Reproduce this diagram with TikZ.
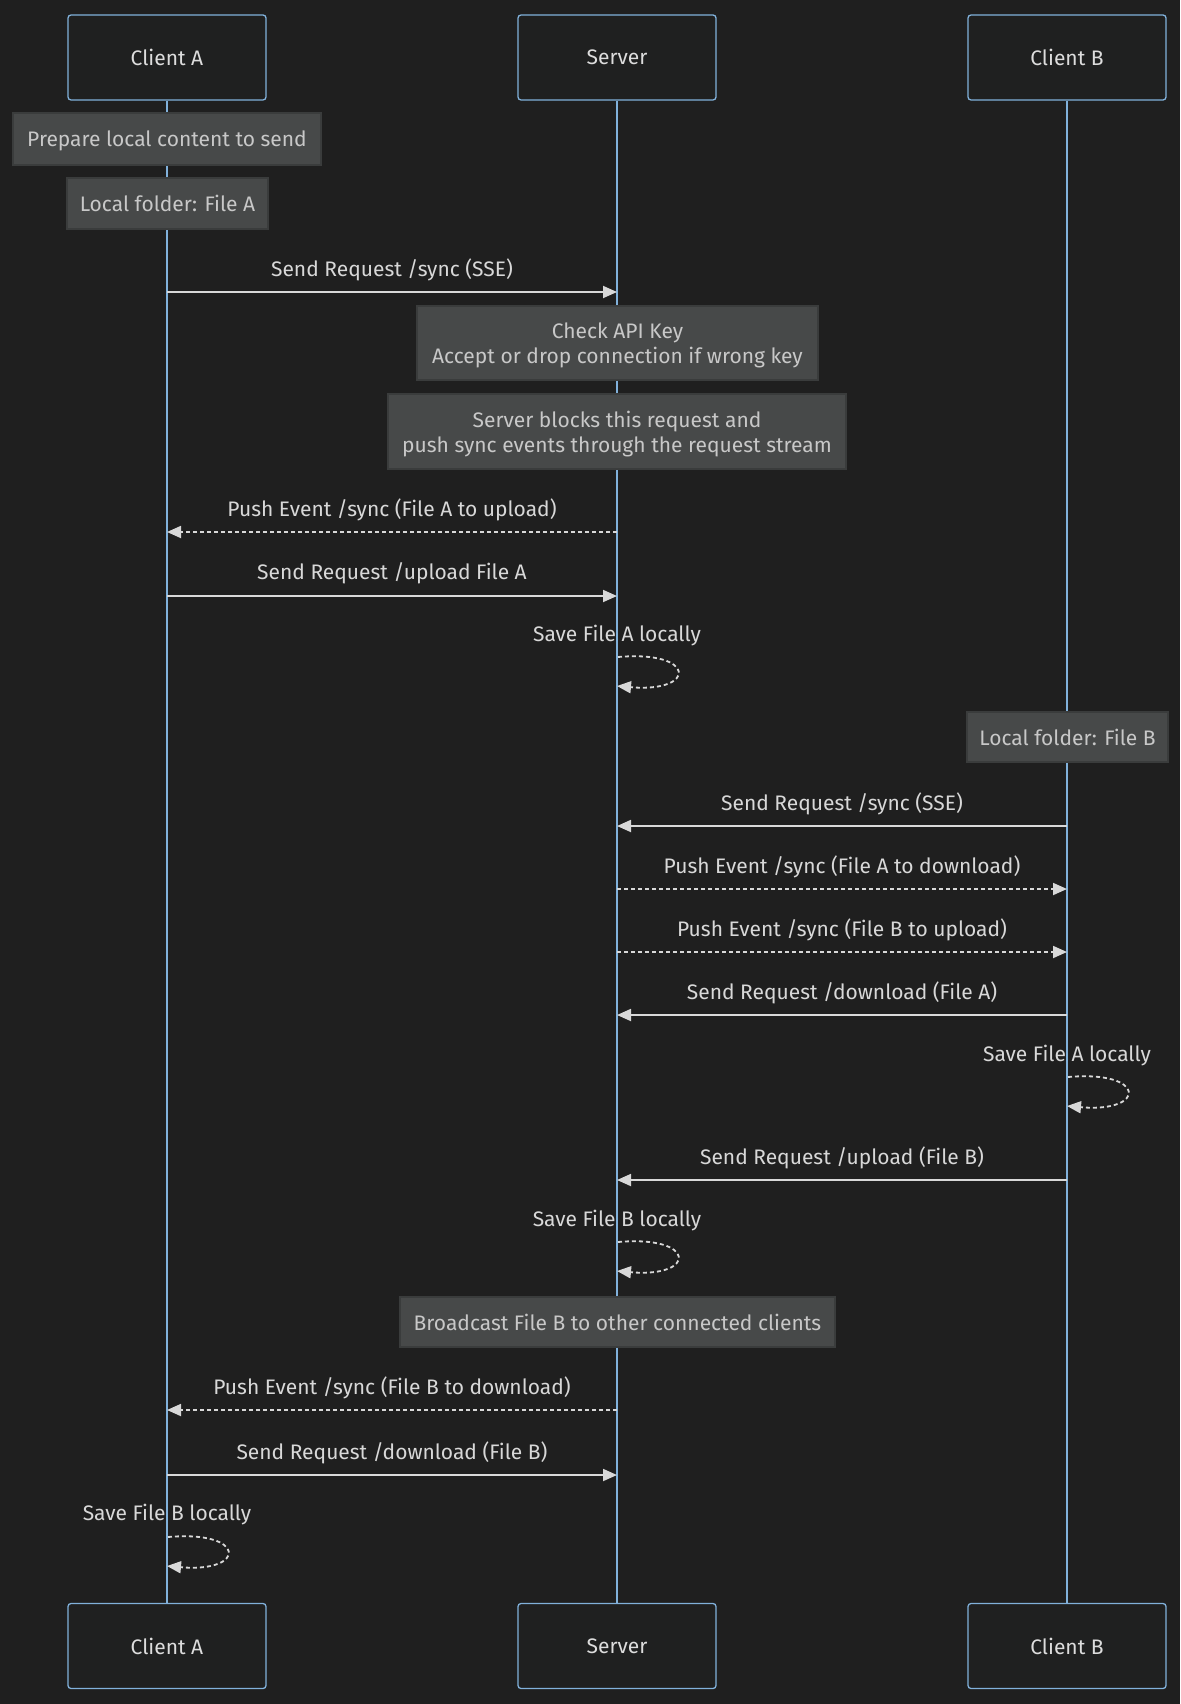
\documentclass[tikz,border=0pt]{standalone}
\usepackage{fontspec}
\setmainfont{Fira Sans}
\usetikzlibrary{arrows.meta}
\definecolor{bg}{HTML}{1F1F1F}
\definecolor{actorfill}{HTML}{1F2020}
\definecolor{actorline}{HTML}{81B1DB}
\definecolor{actortext}{HTML}{DDDDDD}
\definecolor{notefill}{HTML}{474949}
\definecolor{noteborder}{HTML}{3A3C3C}
\definecolor{notetext}{HTML}{C8C8C8}
\definecolor{msgcol}{HTML}{D8D8D8}
\begin{document}
\begin{tikzpicture}[x=1pt,y=-1pt,
  font=\fontsize{21}{25}\selectfont,
  actorbox/.style={draw=actorline, fill=actorfill, rounded corners=3pt,
    line width=1.3pt, minimum width=198pt, minimum height=85pt, text=actortext},
  notebox/.style={draw=noteborder, fill=notefill, line width=1.2pt,
    text=notetext, align=center, inner sep=0pt, text depth=0pt},
  lifeline/.style={draw=actorline, line width=2pt},
  msgline/.style={draw=msgcol, line width=1.8pt,
    -{Triangle[length=14pt,width=12pt]}},
  async/.style={msgline, dash pattern=on 4pt off 3pt},
  msglabel/.style={text=msgcol, midway, yshift=22.5pt},
  looplabel/.style={text=msgcol}
]
% canvas
\fill[bg] (0,0) rectangle (1180,1704);
\useasboundingbox (0,0) rectangle (1180,1704);

% participants, top and bottom
\node[actorbox] (ta) at (167,57.5) {Client A};
\node[actorbox] (ts) at (617,57.5) {Server};
\node[actorbox] (tb) at (1067,57.5) {Client B};
\node[actorbox] (ba) at (167,1646) {Client A};
\node[actorbox] (bs) at (617,1646) {Server};
\node[actorbox] (bb) at (1067,1646) {Client B};

% lifelines
\draw[lifeline] (ta.south) -- (ba.north);
\draw[lifeline] (ts.south) -- (bs.north);
\draw[lifeline] (tb.south) -- (bb.north);

% notes
\node[notebox, minimum width=308pt, minimum height=52pt] (n1) at (167,139) {Prepare local content to send};
\node[notebox, minimum width=201pt, minimum height=51pt] (n2) at (167.5,203.5) {Local folder: File A};
\node[notebox, minimum width=401pt, minimum height=74pt] (n3) at (617.5,343) {Check API Key\\Accept or drop connection if wrong key};
\node[notebox, minimum width=458pt, minimum height=75pt] (n4) at (617,431.5) {Server blocks this request and\\push sync events through the request stream};
\node[notebox, minimum width=201pt, minimum height=50pt] (n5) at (1067.5,737) {Local folder: File B};
\node[notebox, minimum width=435pt, minimum height=50pt] (n6) at (617.5,1322) {Broadcast File B to other connected clients};

% messages
\draw[msgline] (ta.south |- 0,292) -- node[msglabel] {Send Request /sync (SSE)} (ts.south |- 0,292);
\draw[async] (ts.south |- 0,532) -- node[msglabel] {Push Event /sync (File A to upload)} (ta.south |- 0,532);
\draw[msgline] (ta.south |- 0,596) -- node[msglabel] {Send Request /upload File A} (ts.south |- 0,596);

\node[looplabel] (l1) at (617,636) {Save File A locally};
\coordinate (l1s) at (618,657);
\coordinate (l1e) at (617,686);
\draw[async] (l1s) .. controls (697,650) and (697,693) .. (l1e);

\draw[msgline] (tb.south |- 0,826) -- node[msglabel] {Send Request /sync (SSE)} (ts.south |- 0,826);
\draw[async] (ts.south |- 0,889) -- node[msglabel] {Push Event /sync (File A to download)} (tb.south |- 0,889);
\draw[async] (ts.south |- 0,952) -- node[msglabel] {Push Event /sync (File B to upload)} (tb.south |- 0,952);
\draw[msgline] (tb.south |- 0,1015) -- node[msglabel] {Send Request /download (File A)} (ts.south |- 0,1015);

\node[looplabel] (l2) at (1067,1056) {Save File A locally};
\coordinate (l2s) at (1068,1077);
\coordinate (l2e) at (1067,1106);
\draw[async] (l2s) .. controls (1147,1070) and (1147,1113) .. (l2e);

\draw[msgline] (tb.south |- 0,1180) -- node[msglabel] {Send Request /upload (File B)} (ts.south |- 0,1180);

\node[looplabel] (l3) at (617,1221) {Save File B locally};
\coordinate (l3s) at (618,1242);
\coordinate (l3e) at (617,1271);
\draw[async] (l3s) .. controls (697,1235) and (697,1278) .. (l3e);

\draw[async] (ts.south |- 0,1410) -- node[msglabel] {Push Event /sync (File B to download)} (ta.south |- 0,1410);
\draw[msgline] (ta.south |- 0,1475) -- node[msglabel] {Send Request /download (File B)} (ts.south |- 0,1475);

\node[looplabel] (l4) at (167,1515) {Save File B locally};
\coordinate (l4s) at (168,1537);
\coordinate (l4e) at (167,1566);
\draw[async] (l4s) .. controls (247,1530) and (247,1573) .. (l4e);
\end{tikzpicture}
\end{document}
